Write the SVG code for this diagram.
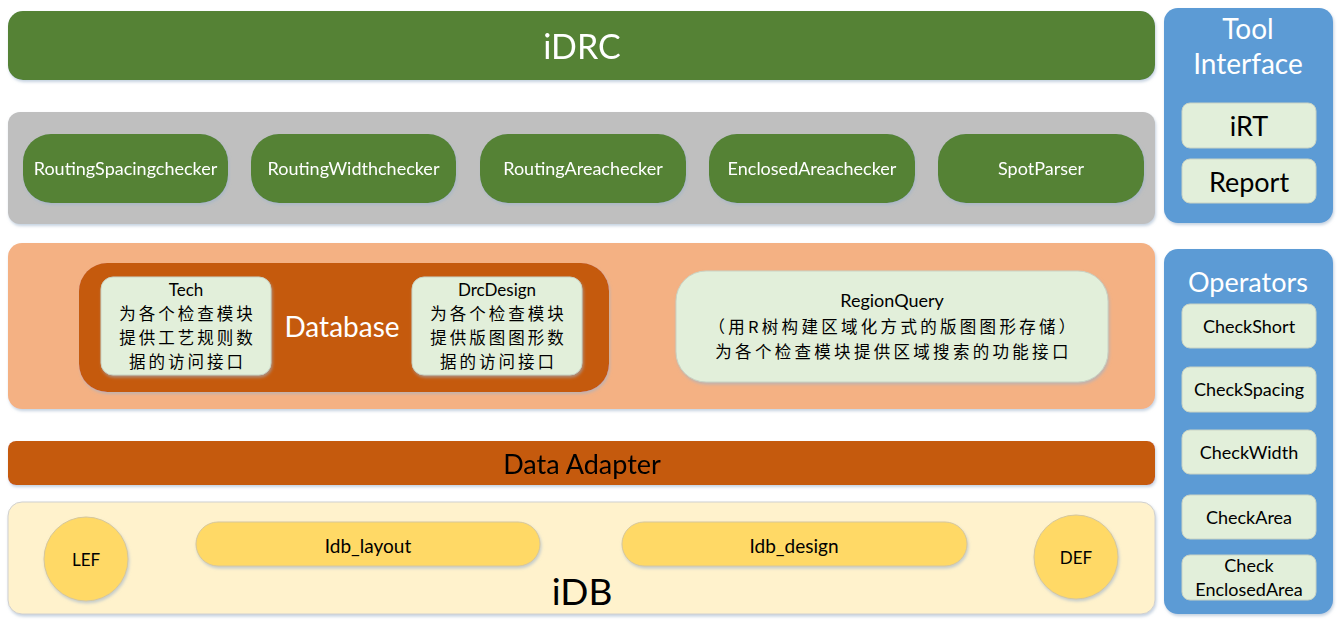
<svg xmlns="http://www.w3.org/2000/svg" width="1342" height="635" viewBox="0 0 1342 635">
<defs>
<filter id="sh" x="-5%" y="-10%" width="110%" height="130%">
<feDropShadow dx="1" dy="2" stdDeviation="1.5" flood-color="#9db3cc" flood-opacity="0.6"/>
</filter>
</defs>
<style>
text{font-family:Lato,"Noto Sans","Noto Sans CJK SC",sans-serif;text-anchor:middle;dominant-baseline:central}
.cjk{font-family:"Noto Sans CJK SC",sans-serif;font-size:16.5px;letter-spacing:3px}
.g{fill:#548235}
.w{fill:#fff}
.k{fill:#000}
.lg{fill:#E2EFDA;stroke:#c9d3c4;stroke-width:1}
.bl{fill:#5B9BD5}
.yl{fill:#FFD966;stroke:#d6c79a;stroke-width:1}
</style>
<g id="idrc" filter="url(#sh)">
<rect x="8" y="11" width="1147" height="69" rx="15" class="g"/>
<text x="582" y="45" font-size="34" class="w">iDRC</text>
</g>
<g id="checkers">
<rect x="8" y="112" width="1147" height="112" rx="12" fill="#BFBFBF" filter="url(#sh)"/>
<g id="c1" filter="url(#sh)"><rect x="23" y="134" width="205" height="69" rx="28" class="g"/><text x="125.5" y="168" font-size="18" class="w">RoutingSpacingchecker</text></g>
<g id="c2" filter="url(#sh)"><rect x="251" y="134" width="205" height="69" rx="28" class="g"/><text x="353.5" y="168" font-size="18" class="w">RoutingWidthchecker</text></g>
<g id="c3" filter="url(#sh)"><rect x="480" y="134" width="206" height="69" rx="28" class="g"/><text x="583" y="168" font-size="18" class="w">RoutingAreachecker</text></g>
<g id="c4" filter="url(#sh)"><rect x="709" y="134" width="206" height="69" rx="28" class="g"/><text x="812" y="168" font-size="18" class="w">EnclosedAreachecker</text></g>
<g id="c5" filter="url(#sh)"><rect x="938" y="134" width="206" height="69" rx="28" class="g"/><text x="1041" y="168" font-size="18" class="w">SpotParser</text></g>
</g>
<g id="toolif">
<rect x="1164" y="8" width="169" height="215" rx="14" class="bl" filter="url(#sh)"/>
<text font-size="28" class="w"><tspan x="1248" y="28">Tool</tspan><tspan x="1248" y="63">Interface</tspan></text>
<g id="irt"><rect x="1182" y="103" width="134" height="45" rx="8" class="lg"/><text x="1249" y="125" font-size="27" class="k">iRT</text></g>
<g id="report"><rect x="1182" y="159" width="134" height="44" rx="8" class="lg"/><text x="1249" y="181" font-size="27" class="k">Report</text></g>
</g>
<g id="dbpanel">
<rect x="8" y="243" width="1147" height="166" rx="14" fill="#F4B183" filter="url(#sh)"/>
<g id="database">
<rect x="79" y="263" width="530" height="129" rx="28" fill="#C55A11" filter="url(#sh)"/>
<text x="342" y="326" font-size="28" class="w">Database</text>
</g>
<g id="tech">
<rect x="101" y="277" width="170" height="98" rx="12" class="lg" filter="url(#sh)"/>
<text x="186" y="289" font-size="17" class="k">Tech</text>
<text x="187.5" y="313" class="k cjk">为各个检查模块</text>
<text x="187.5" y="337" class="k cjk">提供工艺规则数</text>
<text x="187.5" y="361" class="k cjk">据的访问接口</text>
</g>
<g id="drcdesign">
<rect x="412" y="277" width="170" height="98" rx="12" class="lg" filter="url(#sh)"/>
<text x="497" y="289" font-size="17" class="k">DrcDesign</text>
<text x="498.5" y="313" class="k cjk">为各个检查模块</text>
<text x="498.5" y="337" class="k cjk">提供版图图形数</text>
<text x="498.5" y="361" class="k cjk">据的访问接口</text>
</g>
<g id="regionquery">
<rect x="676" y="271" width="432" height="111" rx="30" class="lg" filter="url(#sh)"/>
<text x="892" y="300" font-size="18" class="k">RegionQuery</text>
<text x="893.5" y="326" class="k cjk" style="letter-spacing:3.3px">（用R树构建区域化方式的版图图形存储）</text>
<text x="893.5" y="351" class="k cjk" style="letter-spacing:3.3px">为各个检查模块提供区域搜索的功能接口</text>
</g>
</g>
<g id="operators">
<rect x="1164" y="249" width="169" height="365" rx="14" class="bl" filter="url(#sh)"/>
<text x="1248" y="281" font-size="27" class="w">Operators</text>
<g id="op1"><rect x="1182" y="304" width="134" height="44" rx="8" class="lg"/><text x="1249" y="326" font-size="18" class="k">CheckShort</text></g>
<g id="op2"><rect x="1182" y="367" width="134" height="45" rx="8" class="lg"/><text x="1249" y="389" font-size="18" class="k">CheckSpacing</text></g>
<g id="op3"><rect x="1182" y="430" width="134" height="44" rx="8" class="lg"/><text x="1249" y="452" font-size="18" class="k">CheckWidth</text></g>
<g id="op4"><rect x="1182" y="495" width="134" height="44" rx="8" class="lg"/><text x="1249" y="517" font-size="18" class="k">CheckArea</text></g>
<g id="op5"><rect x="1182" y="555" width="134" height="45" rx="8" class="lg"/><text x="1249" y="565" font-size="18" class="k">Check</text><text x="1249" y="589" font-size="18" class="k">EnclosedArea</text></g>
</g>
<g id="adapter" filter="url(#sh)">
<rect x="8" y="441" width="1147" height="44" rx="8" fill="#C55A11"/>
<text x="582" y="463" font-size="27" class="k">Data Adapter</text>
</g>
<g id="idb">
<rect x="8" y="502" width="1147" height="112" rx="14" fill="#FFF2CC" stroke="#d0d0d0" stroke-width="1" filter="url(#sh)"/>
<text x="582" y="590" font-size="37" class="k">iDB</text>
<g id="lef"><ellipse cx="86" cy="559" rx="42" ry="42" class="yl" filter="url(#sh)"/><text x="86" y="559" font-size="17" class="k">LEF</text></g>
<g id="layout"><rect x="196" y="522" width="344" height="44" rx="22" class="yl" filter="url(#sh)"/><text x="368" y="545" font-size="19" class="k">Idb_layout</text></g>
<g id="design"><rect x="622" y="522" width="345" height="44" rx="22" class="yl" filter="url(#sh)"/><text x="794" y="545" font-size="19" class="k">Idb_design</text></g>
<g id="def"><ellipse cx="1076" cy="557" rx="42" ry="42" class="yl" filter="url(#sh)"/><text x="1076" y="557" font-size="17" class="k">DEF</text></g>
</g>
<g id="connectors"></g>
</svg>
